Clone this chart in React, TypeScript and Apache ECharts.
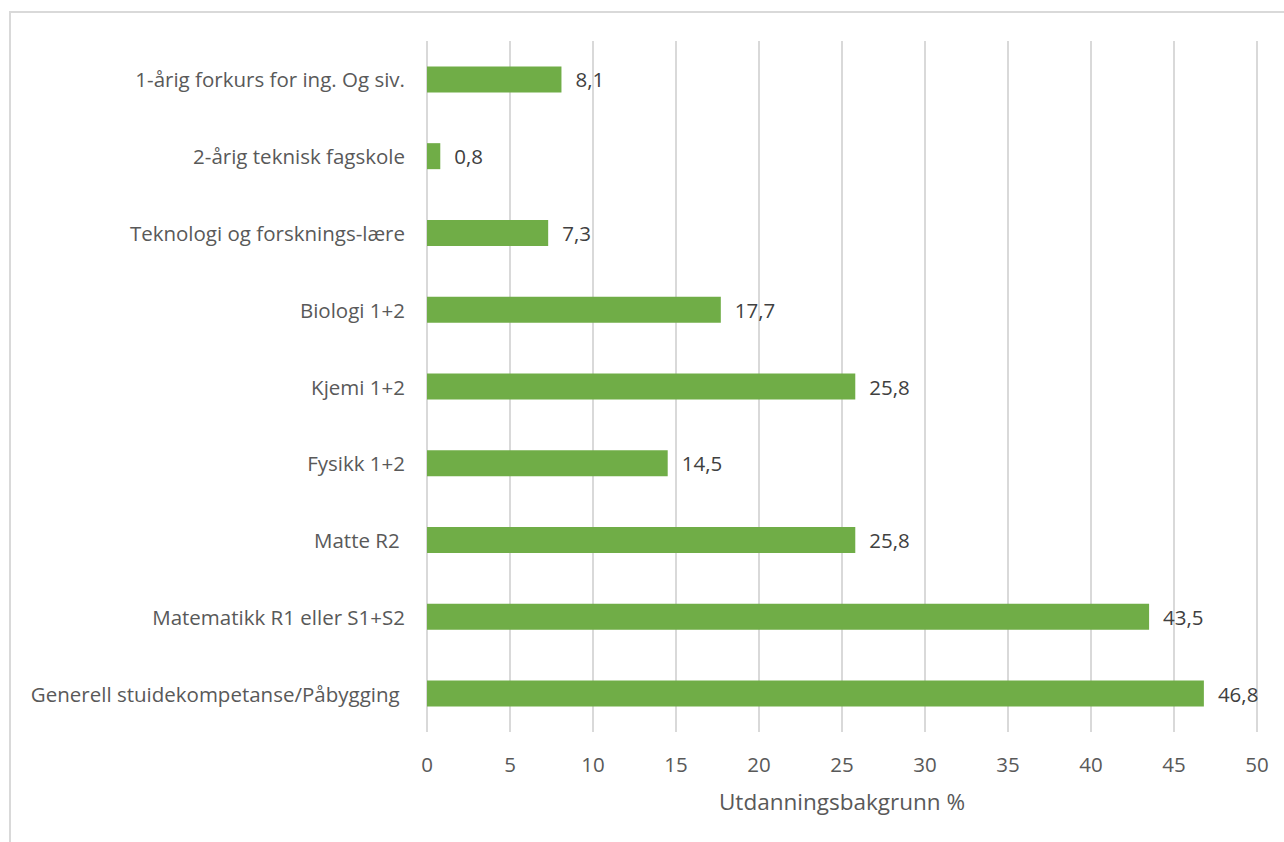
import React, { useEffect, useRef } from "react";
import * as echarts from "echarts";

const categories = [
  "1-årig forkurs for ing. Og siv.",
  "2-årig teknisk fagskole",
  "Teknologi og forsknings-lære",
  "Biologi 1+2",
  "Kjemi 1+2",
  "Fysikk 1+2",
  "Matte R2 ",
  "Matematikk R1 eller S1+S2",
  "Generell stuidekompetanse/Påbygging ",
];
const values = [8.1, 0.8, 7.3, 17.7, 25.8, 14.5, 25.8, 43.5, 46.8];
const axisTitle = "Utdanningsbakgrunn %";

const FONT = "'Open Sans', Lato, sans-serif";

export default function App() {
  const ref = useRef<HTMLDivElement>(null);
  useEffect(() => {
    if (!ref.current) return;
    const chart = echarts.init(ref.current, null, { renderer: "svg" });
    chart.setOption({
      animation: false,
      backgroundColor: "#ffffff",
      graphic: [
        {
          type: "rect",
          shape: { x: 10, y: 12, width: 1300, height: 860 },
          style: { fill: "none", stroke: "#d9d9d9", lineWidth: 2 },
          silent: true,
        },
      ],
      grid: { left: 427, right: 27, top: 41, bottom: 110 },
      xAxis: {
        type: "value",
        min: 0,
        max: 50,
        interval: 5,
        name: axisTitle,
        nameLocation: "middle",
        nameGap: 58,
        nameTextStyle: { fontFamily: FONT, fontSize: 22.5, color: "#595959" },
        axisLine: { show: false },
        axisTick: { show: false },
        axisLabel: { fontFamily: FONT, fontSize: 20.5, color: "#595959", margin: 21 },
        splitLine: { show: true, lineStyle: { color: "#d9d9d9", width: 2 } },
      },
      yAxis: {
        type: "category",
        data: categories,
        inverse: true,
        axisLine: { show: false },
        axisTick: { show: false },
        axisLabel: { fontFamily: FONT, fontSize: 20.5, color: "#595959", margin: 22 },
      },
      series: [
        {
          type: "bar",
          data: values,
          barWidth: 26,
          itemStyle: { color: "#70ad47" },
          label: {
            show: true,
            position: "right",
            distance: 14,
            fontFamily: FONT,
            fontSize: 20.5,
            color: "#404040",
            formatter: (p: any) => String(p.value).replace(".", ","),
          },
        },
      ],
    });
    return () => chart.dispose();
  }, []);
  return (
    <div
      ref={ref}
      style={{ position: "fixed", left: 0, top: 0, width: 1284, height: 842 }}
    />
  );
}
